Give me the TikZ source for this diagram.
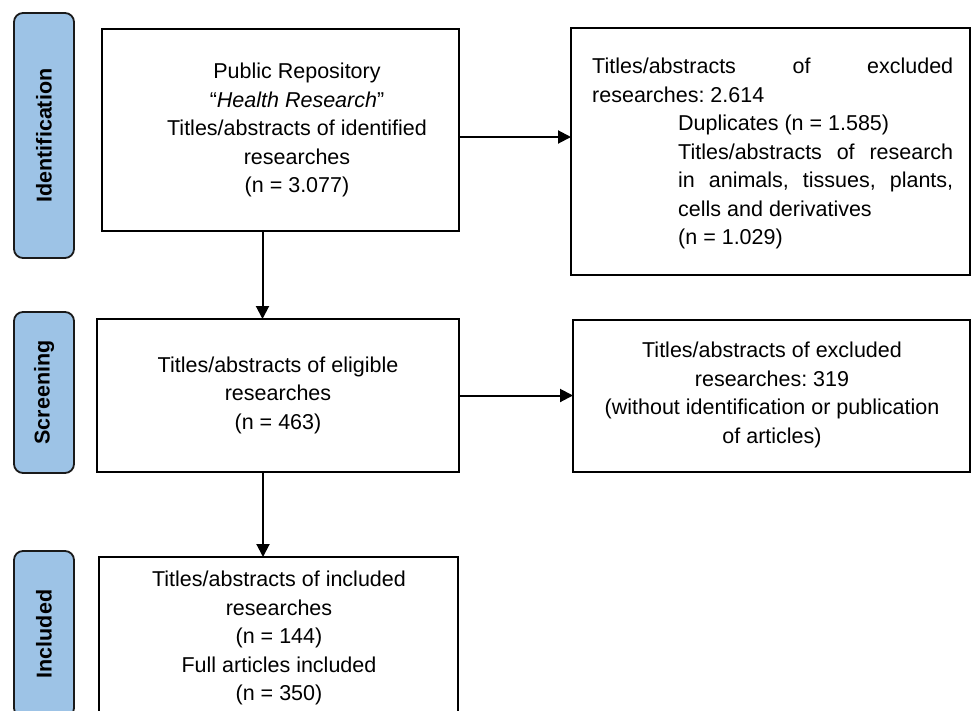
\documentclass[tikz,border=0pt]{standalone}
\usepackage{fontspec}
\setmainfont{Liberation Sans}
\usetikzlibrary{arrows.meta}
\definecolor{labblue}{HTML}{9DC3E6}
\definecolor{labline}{HTML}{1A1A1A}
\newcommand{\bodyfnt}{\fontsize{21.5}{28.5}\selectfont}
\hyphenpenalty=10000
\exhyphenpenalty=10000
\frenchspacing
\begin{document}
\frenchspacing
\begin{tikzpicture}[x=1pt,y=-1pt,
  box/.style={draw, line width=1.8pt, outer sep=0pt, inner sep=0pt, anchor=north west},
  lab/.style={draw=labline, fill=labblue, line width=1.8pt, rounded corners=9pt, rotate=90,
              font=\bodyfnt\bfseries, inner sep=0pt, outer sep=0pt, minimum height=60pt},
  txt/.style={font=\bodyfnt, inner sep=0pt, align=center},
  arr/.style={line width=2pt, -{Triangle[length=13pt,width=13pt]}}]
\useasboundingbox (0,0) rectangle (972,710);
\clip (0,0) rectangle (972,710);

% stage labels
\node[lab, minimum width=245pt] (lab1) at (44,135.5) {Identification};
\node[lab, minimum width=161pt] (lab2) at (44,392.5) {Screening};
\node[lab, minimum width=166pt] (lab3) at (44,634) {Included};

% boxes
\node[box, minimum width=357pt, minimum height=202pt] (b1) at (102,29) {};
\node[box, minimum width=399pt, minimum height=247pt] (b2) at (571,28) {};
\node[box, minimum width=362pt, minimum height=153pt] (b3) at (97,319) {};
\node[box, minimum width=397pt, minimum height=152pt] (b4) at (573,320) {};
\node[box, minimum width=359pt, minimum height=163pt] (b5) at (99,557) {};

% texts
\node[txt] (t1) at (297,130) {Public Repository\\“\textit{Health Research}”\\Titles/abstracts of identified\\researches\\(n = 3.077)};
\node[anchor=north west, inner sep=0pt, text width=361pt, font=\bodyfnt, align=justify] (t2) at (592,58)
  {Titles/abstracts of excluded\linebreak researches: 2.614\par
   {\leftskip=86pt Duplicates (n = 1.585)\newline Titles/abstracts of research\linebreak in animals, tissues, plants,\linebreak cells and derivatives\newline (n = 1.029)\par}};
\node[txt] (t3) at (278,395) {Titles/abstracts of eligible\\researches\\(n = 463)};
\node[txt] (t4) at (772,395) {Titles/abstracts of excluded\\researches: 319\\(without identification or publication\\of articles)};
\node[txt] (t5) at (279,638) {Titles/abstracts of included\\researches\\(n = 144)\\Full articles included\\(n = 350)};

% connectors
\draw[arr] ([yshift=-7pt]b1.east) -- ([yshift=-7pt]b1.east -| b2.west);
\draw[arr] ([xshift=-18pt]b1.south) -- ([xshift=-18pt]b1.south |- b3.north);
\draw[arr] (b3.east) -- (b3.east -| b4.west);
\draw[arr] ([xshift=-15pt]b3.south) -- ([xshift=-15pt]b3.south |- b5.north);
\end{tikzpicture}
\end{document}
